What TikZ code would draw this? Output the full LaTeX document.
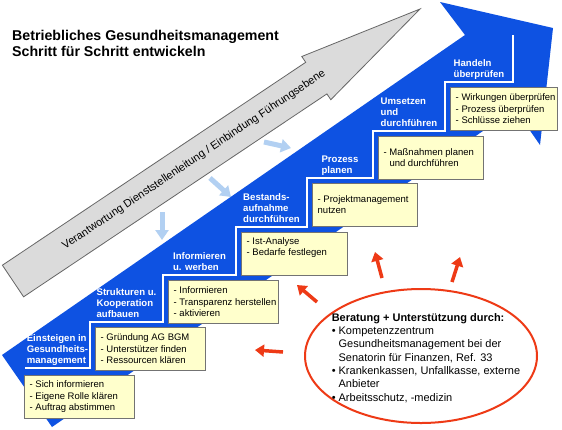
\documentclass[tikz,border=0pt]{standalone}
\usepackage{fontspec}
\setmainfont{Liberation Sans}
\usepackage{tikz}
\usetikzlibrary{calc,shapes.geometric,arrows.meta,shadows}
\definecolor{BandBlue}{RGB}{14,82,226}
\definecolor{NoteYellow}{RGB}{255,255,204}
\definecolor{HintBlue}{RGB}{178,208,242}
\definecolor{SupportRed}{RGB}{238,58,22}
\tikzset{
x=1pt,y=-1pt,
StepLabel/.style={text=white,font=\fontsize{9.6}{11.2}\selectfont\bfseries,align=left,anchor=south,inner sep=0.5pt,execute at end node=\strut},
Task/.style={draw=black!55,fill=NoteYellow,line width=0.6pt,anchor=north west,inner sep=0pt,minimum height=43pt,minimum width=110pt,drop shadow={shadow xshift=1pt,shadow yshift=-1pt,fill=black!35}},
TaskText/.style={anchor=west,xshift=5.5pt,inner sep=0pt,align=left,font=\fontsize{9.5}{11.5}\selectfont},
Hint/.style={HintBlue,line width=5pt,-{Triangle[length=10pt,width=13pt]}},
Push/.style={SupportRed,line width=3.5pt,-{Triangle[length=9pt,width=12pt]}}
}
\newcommand{\MakeStep}[6][]{%
	\node[StepLabel] (#2) at ($(#3)!0.5!(#4 |- #3)$) {#5};%
	\node[Task,#1] (#2Task) at ($(#3)+(5,5)$) {};%
	\node[TaskText] (#2Text) at (#2Task.west) {#6};%
}

\begin{document}
\begin{tikzpicture}
	\fill[white] (0,0) rectangle (562,429);
	\useasboundingbox (0,0) rectangle (562,429);
	
	% Band
	\fill[BandBlue] (2,355) -- (465,35) -- (440,2) -- (553,28) -- (540,145) -- (515,109) -- (52,427) -- cycle;
	\foreach \x/\y [count=\i] in {25/368,90/322,163/275,236/227,307/178,373/131,445/82,513/35}
		\coordinate (c\i) at (\x,\y);
	\draw[white,line width=2pt] (c1) -| (c2) -| (c3) -| (c4) -| (c5) -| (c6) -| (c7) -| (c8);
	
	% Pillar
	\draw[fill=black!14,draw=black!60,line width=0.8pt] (2.4,265.2) -- (305.7,62.3) -- (301.8,56.5) -- (420,9) -- (330.8,99.7) -- (326.9,93.9) -- (23.6,296.8) -- cycle;
	\node[rotate=33.8,font=\fontsize{11}{13}\selectfont] (Pillar) at (194,160) {Verantwortung Dienststellenleitung / Einbindung Führungsebene};
	
	\coordinate (h1a) at (162,212); \coordinate (h1b) at (162,240);
	\coordinate (h2a) at (210,178); \coordinate (h2b) at (231,197);
	\coordinate (h3a) at (264,142); \coordinate (h3b) at (291,148);
	\foreach \i in {1,2,3}
		\draw[Hint] (h\i a) -- (h\i b);
	
	% Steps
	\MakeStep[xshift=-6pt,yshift=-2pt]{Einsteigen}{c1}{c2}{Einsteigen in\\Gesundheits-\\management}{- Sich informieren\\- Eigene Rolle klären\\- Auftrag abstimmen}
	\MakeStep{Strukturen}{c2}{c3}{Strukturen u.\\Kooperation\\aufbauen}{- Gründung AG BGM\\- Unterstützer finden\\- Ressourcen klären}
	\MakeStep{Informieren}{c3}{c4}{Informieren\\u. werben}{- Informieren\\- Transparenz herstellen\\- aktivieren}
	\MakeStep[minimum width=106pt]{Bestand}{c4}{c5}{Bestands-\\aufnahme\\durchführen}{- Ist-Analyse\\- Bedarfe festlegen\\\strut}
	\MakeStep[minimum width=105pt]{Prozess}{c5}{c6}{Prozess\\planen}{- Projektmanagement\\nutzen}
	\MakeStep[minimum width=105pt]{Umsetzen}{c6}{c7}{Umsetzen\\und\\durchführen}{- Maßnahmen planen\\\phantom{- }und durchführen}
	\MakeStep[minimum width=107pt]{Handeln}{c7}{c8}{Handeln\\überprüfen}{- Wirkungen überprüfen\\- Prozess überprüfen\\- Schlüsse ziehen}
	
	% Support
	\node[draw=SupportRed,line width=2pt,ellipse,minimum width=232pt,minimum height=134pt,inner sep=0pt] (Support) at (421,356) {};
	\node[align=left,font=\fontsize{11}{13.3}\selectfont,inner sep=0pt] (SupportText) at ($(Support.center)+(5,2)$) {\textbf{Beratung + Unterstützung durch:}\\
		\textbullet\ Kompetenzzentrum\\
		\phantom{\textbullet\ }Gesundheitsmanagement bei der\\
		\phantom{\textbullet\ }Senatorin für Finanzen, Ref. 33\\
		\textbullet\ Krankenkassen, Unfallkasse, externe\\
		\phantom{\textbullet\ }Anbieter\\
		\textbullet\ Arbeitsschutz, -medizin};
	\coordinate (p1a) at (283,352); \coordinate (p1b) at (255,350);
	\coordinate (p2a) at (317,302); \coordinate (p2b) at (297,285);
	\coordinate (p3a) at (382,278); \coordinate (p3b) at (375,252);
	\coordinate (p4a) at (452,282); \coordinate (p4b) at (460,257);
	\foreach \i in {1,...,4}
		\draw[Push] (p\i a) -- (p\i b);
	
	\node[anchor=north west,align=left,font=\fontsize{14.2}{15.3}\selectfont\bfseries,inner sep=0pt] (Title) at (12,30.5) {Betriebliches Gesundheitsmanagement\\Schritt für Schritt entwickeln};
\end{tikzpicture}
\end{document}
